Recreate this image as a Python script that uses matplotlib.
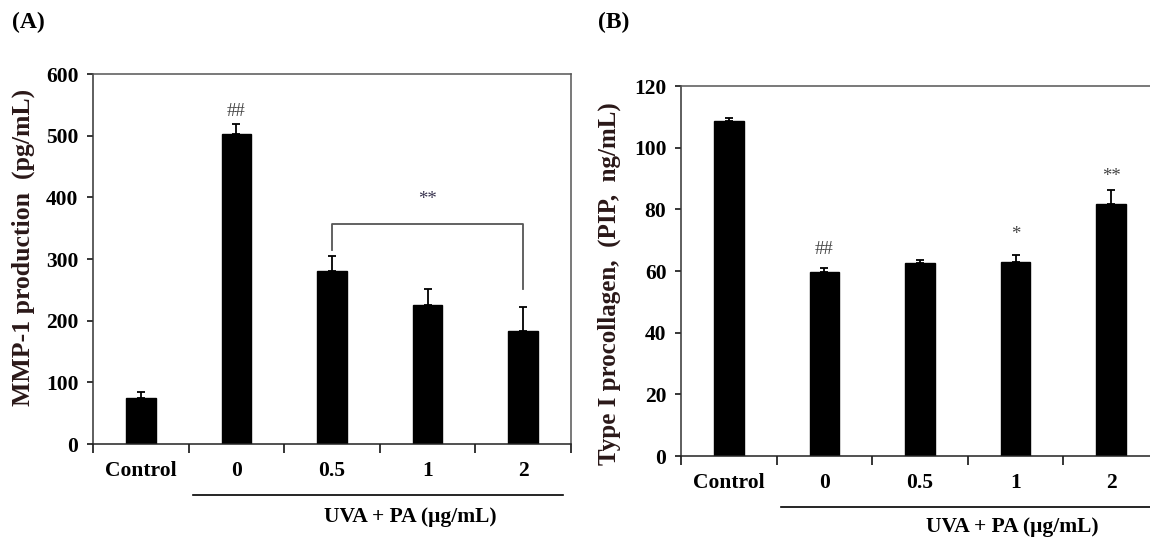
import matplotlib
matplotlib.use("Agg")
import matplotlib.pyplot as plt
import matplotlib.transforms as mtransforms
import numpy as np

# data
categories = ["Control", "0", "0.5", "1", "2"]

mmp1_mean = [75, 502, 280, 225, 184]
mmp1_err = [10, 17, 25, 27, 38]

pip_mean = [108.6, 59.8, 62.6, 63.0, 81.6]
pip_err = [1.0, 1.1, 0.9, 2.3, 4.8]

# significance marks: (category index, text)
mmp1_marks = [(1, "##")]
pip_marks = [(1, "##"), (3, "*"), (4, "**")]
mmp1_bracket = (2, 4, "**")

group_label = "UVA + PA (\u03bcg/mL)"

plt.rcParams["font.family"] = ["Liberation Serif", "DejaVu Serif"]
plt.rcParams["font.weight"] = "bold"

fig = plt.figure(figsize=(11.5, 5.43), dpi=100)
axA = fig.add_axes([0.0809, 0.1823, 0.4157, 0.6814])
axB = fig.add_axes([0.5922, 0.1602, 0.4157, 0.6814])


def style_axes(ax, ymax, ystep):
    x = np.arange(len(categories))
    ax.set_xlim(-0.5, len(categories) - 0.5)
    ax.set_ylim(0, ymax)
    ax.set_yticks(np.arange(0, ymax + 1, ystep))
    ax.set_xticks(np.arange(-0.5, len(categories), 1.0))
    ax.set_xticklabels([])
    ax.set_xticks(x, minor=True)
    ax.set_xticklabels(categories, minor=True)
    ax.tick_params(axis="x", which="major", direction="out", length=6.5, width=1.1)
    ax.tick_params(axis="x", which="minor", length=0, pad=12, labelsize=15.5)
    ax.tick_params(axis="y", direction="out", length=4.5, width=1.1, pad=6, labelsize=15.5)
    for lab in ax.get_yticklabels() + ax.get_xticklabels(minor=True):
        lab.set_fontweight("bold")
    ax.spines["left"].set_color("#333333")
    ax.spines["bottom"].set_color("#222222")
    ax.spines["top"].set_color("#555555")
    ax.spines["right"].set_color("#555555")
    for s in ax.spines.values():
        s.set_linewidth(1.1)
    # underline + group label below the treated groups
    tr = mtransforms.blended_transform_factory(ax.transData, ax.transAxes)
    ax.plot([0.55, 4.42], [-0.137, -0.137], color="black", lw=1.2,
            transform=tr, clip_on=False)
    return tr


def draw_bars(ax, means, errs):
    x = np.arange(len(categories))
    ax.bar(x, means, width=0.31, color="black", edgecolor="black",
           yerr=[np.zeros(len(errs)), errs], capsize=2.9,
           error_kw=dict(ecolor="black", elinewidth=1.3, capthick=1.3))


# panel A
trA = style_axes(axA, 600, 100)
draw_bars(axA, mmp1_mean, mmp1_err)
for i, s in mmp1_marks:
    axA.text(i, mmp1_mean[i] + mmp1_err[i] + 21, s, ha="center", va="center",
             fontsize=13.5, fontweight="normal", color="#444444")
i0, i1, s = mmp1_bracket
top = 357
axA.plot([i0, i0, i1, i1],
         [mmp1_mean[i0] + mmp1_err[i0] + 10, top, top, mmp1_mean[i1] + mmp1_err[i1] + 30],
         color="#555555", lw=1.3)
axA.text((i0 + i1) / 2, top + 40, s, ha="center", va="center",
         fontsize=13.5, fontweight="normal", color="#3a3550")
axA.set_ylabel("MMP-1 production  (pg/mL)", fontsize=18.5, fontweight="bold",
               color="#2a1818")
axA.yaxis.set_label_coords(-0.121, 0.531)
axA.text(2.82, -0.197, group_label, transform=trA, ha="center", va="center",
         fontsize=15.5, fontweight="bold")

# panel B
trB = style_axes(axB, 120, 20)
draw_bars(axB, pip_mean, pip_err)
offsets = {1: 6.2, 3: 6.5, 4: 4.4}
for i, s in pip_marks:
    axB.text(i, pip_mean[i] + pip_err[i] + offsets[i], s, ha="center", va="center",
             fontsize=13.5, fontweight="normal", color="#444444")
axB.set_ylabel("Type I procollagen,  (PIP,  ng/mL)", fontsize=18,
               fontweight="bold", color="#2a1818")
axB.yaxis.set_label_coords(-0.1255, 0.465)
axB.text(2.96, -0.192, group_label, transform=trB, ha="center", va="center",
         fontsize=15.5, fontweight="bold")

fig.text(0.0105, 1 - 22 / 543, "(A)", ha="left", va="center", fontsize=17,
         fontweight="bold")
fig.text(0.52, 1 - 22 / 543, "(B)", ha="left", va="center", fontsize=17,
         fontweight="bold")

fig.savefig("out.png", dpi=100)
